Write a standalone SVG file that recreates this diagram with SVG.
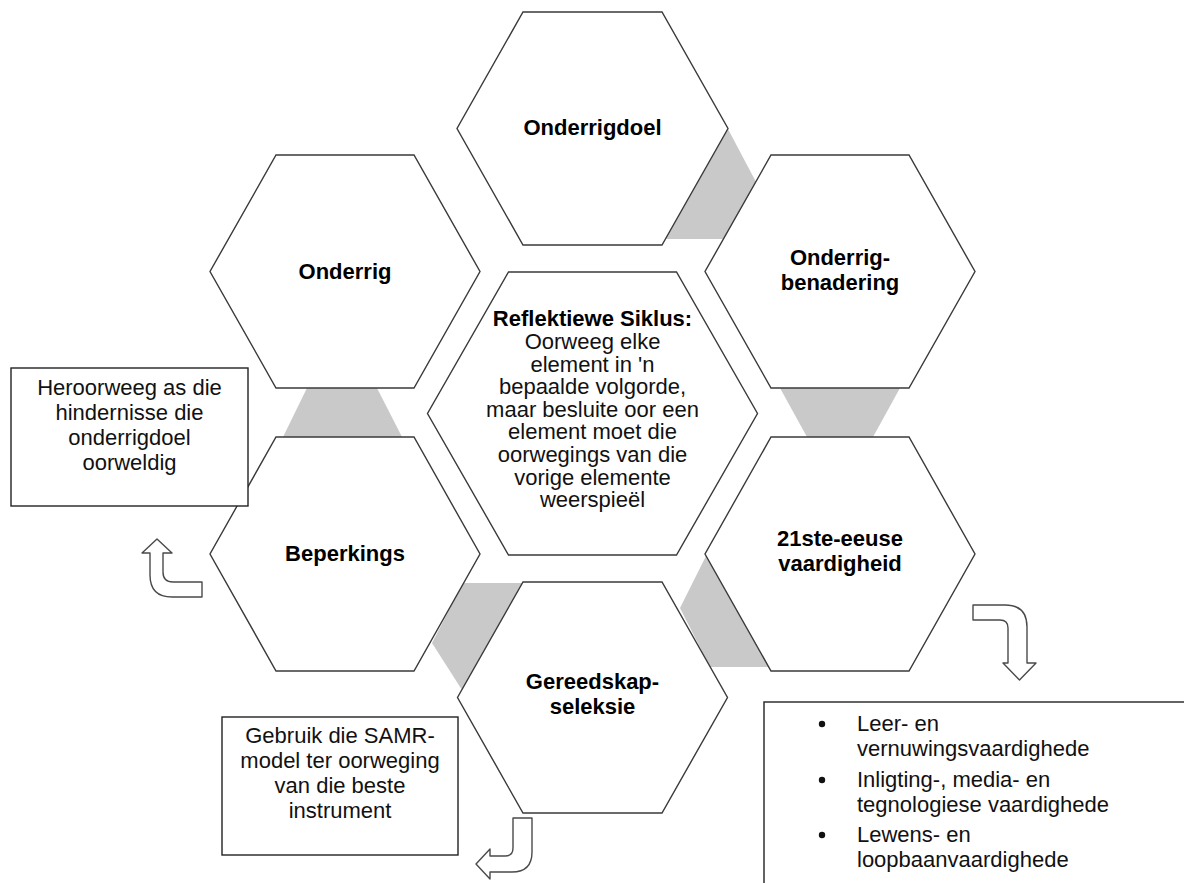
<svg xmlns="http://www.w3.org/2000/svg" width="1184" height="883" viewBox="0 0 1184 883">
<style>
.hex{fill:#fff;stroke:#3a3a3a;stroke-width:1.4}
.gray{fill:#c9c9c9;stroke:none}
.arrow{fill:#fff;stroke:#4a4a4a;stroke-width:1.4;stroke-linejoin:round}
.box{fill:#fff;stroke:#222;stroke-width:1.4}
text{font-family:"Liberation Sans",Arial,sans-serif;font-size:22px;fill:#111}
.lbl{font-weight:bold;text-anchor:middle;fill:#000}
.mid{text-anchor:middle}
.b{font-weight:bold;fill:#000}
</style>
<rect width="1184" height="883" fill="#fff"/>
<g id="connectors">
  <polygon class="gray" points="728,129 756,182 724,239 666,239"/>
  <polygon class="gray" points="780,388 900,388 873,437 807,437"/>
  <polygon class="gray" points="706,556 680,608 710,667 769,667"/>
  <polygon class="gray" points="463,583 522,583 462,690 432,643"/>
  <polygon class="gray" points="307,388 377,388 402,437 283,437"/>
  <path class="arrow" d="M157,539 L172,553 L163,553 L163,572 Q163,582 173,582 L202,582 L202,597 L172,597 Q150,597 150,575 L150,553 L142,553 Z"/>
  <path class="arrow" d="M973,605 L1005,605 Q1027,605 1027,627 L1027,663 L1036,663 L1019.5,680 L1003,663 L1008,663 L1008,628 Q1008,620 1000,620 L973,620 Z"/>
  <path class="arrow" d="M513,818 L532,818 L532,852 Q532,872 512,872 L490,872 L490,879 L476,864 L490,849 L490,856 L505,856 Q513,856 513,848 Z"/>
</g>
<g id="node-onderrigdoel">
  <polygon class="hex" points="523,12 662,12 728,128.5 662,245 523,245 457,128.5"/>
  <text class="lbl" x="592.5" y="135">Onderrigdoel</text>
</g>
<g id="node-benadering">
  <polygon class="hex" points="771,155 909,155 975,271.5 909,388 771,388 705,271.5"/>
  <text class="lbl" x="840" y="264.5">Onderrig-<tspan x="840" dy="25">benadering</tspan></text>
</g>
<g id="node-21ste">
  <polygon class="hex" points="771,437 909,437 975,554 909,671 771,671 705,554"/>
  <text class="lbl" x="840" y="545.5">21ste-eeuse<tspan x="840" dy="25">vaardigheid</tspan></text>
</g>
<g id="node-gereedskap">
  <polygon class="hex" points="523,582 662,582 727.5,697.5 662,813 523,813 457.5,697.5"/>
  <text class="lbl" x="592.5" y="688.5">Gereedskap-<tspan x="592.5" dy="25">seleksie</tspan></text>
</g>
<g id="node-beperkings">
  <polygon class="hex" points="276,437 414,437 480,554 414,671 276,671 210,554"/>
  <text class="lbl" x="345" y="561">Beperkings</text>
</g>
<g id="node-onderrig">
  <polygon class="hex" points="276,155 414,155 480,271.5 414,388 276,388 210,271.5"/>
  <text class="lbl" x="345" y="279">Onderrig</text>
</g>
<g id="node-center">
  <polygon class="hex" points="508.5,272 676.5,272 757.5,413.5 676.5,555 508.5,555 427.5,413.5"/>
  <text class="mid" x="592.5" y="326"><tspan class="b">Reflektiewe Siklus:</tspan><tspan x="592.5" dy="23">Oorweeg elke</tspan><tspan x="592.5" dy="22.6">element in 'n</tspan><tspan x="592.5" dy="22.6">bepaalde volgorde,</tspan><tspan x="592.5" dy="22.6">maar besluite oor een</tspan><tspan x="592.5" dy="22.6">element moet die</tspan><tspan x="592.5" dy="22.6">oorwegings van die</tspan><tspan x="592.5" dy="22.6">vorige elemente</tspan><tspan x="592.5" dy="22.6">weerspieël</tspan></text>
</g>
<g id="note-heroorweeg">
  <rect class="box" x="11" y="368" width="237" height="138"/>
  <text class="mid" x="129.5" y="395">Heroorweeg as die<tspan x="129.5" dy="25">hindernisse die</tspan><tspan x="129.5" dy="25">onderrigdoel</tspan><tspan x="129.5" dy="25">oorweldig</tspan></text>
</g>
<g id="note-samr">
  <rect class="box" x="222" y="717" width="236" height="138"/>
  <text class="mid" x="340" y="743">Gebruik die SAMR-<tspan x="340" dy="25">model ter oorweging</tspan><tspan x="340" dy="25">van die beste</tspan><tspan x="340" dy="25">instrument</tspan></text>
</g>
<g id="note-skills">
  <rect class="box" x="764" y="702" width="440" height="200"/>
  <circle cx="822" cy="724" r="3.2" fill="#111"/>
  <circle cx="822" cy="780" r="3.2" fill="#111"/>
  <circle cx="822" cy="835" r="3.2" fill="#111"/>
  <text x="857" y="730.5">Leer- en<tspan x="857" dy="25">vernuwingsvaardighede</tspan></text>
  <text x="857" y="786.5">Inligting-, media- en<tspan x="857" dy="25">tegnologiese vaardighede</tspan></text>
  <text x="857" y="841.5">Lewens- en<tspan x="857" dy="25">loopbaanvaardighede</tspan></text>
</g>
</svg>
